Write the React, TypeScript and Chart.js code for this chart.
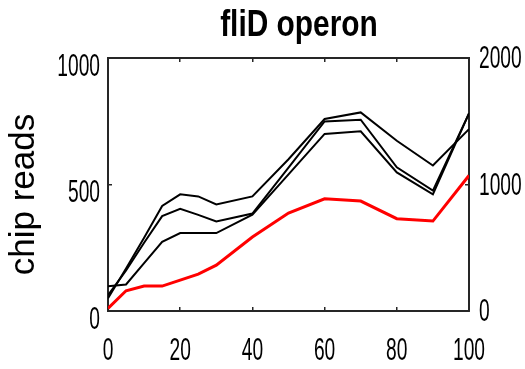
import React, { useEffect, useRef } from "react";
import { Chart, registerables } from "chart.js";

Chart.register(...registerables);

// ---- data ----
const positions = [0, 5, 10, 15, 20, 25, 30, 40, 50, 60, 70, 80, 90, 100];
const chipReadsA = [50, 168, 290, 415, 461, 453, 421, 453, 600, 759, 785, 673, 575, 719];
const chipReadsB = [62, 160, 270, 375, 404, 380, 354, 385, 567, 749, 756, 568, 476, 781];
const chipReadsC = [98, 105, 189, 273, 308, 308, 308, 381, 540, 700, 710, 548, 461, 781];
const redSeries = [20, 160, 197, 197, 244, 291, 362, 585, 774, 887, 869, 730, 711, 1071];

const xTickValues = [0, 20, 40, 60, 80, 100];
const leftTickValues = [0, 500, 1000];
const rightTickValues = [0, 1000, 2000];
const titleText = "fliD operon";
const leftAxisTitle = "chip reads";

const AXIS_COLOR = "#262626";
const TICK_FONT = '32px "Liberation Sans", Arial, sans-serif';
const TITLE_FONT = 'bold 36px "Liberation Sans", Arial, sans-serif';
const AXIS_TITLE_FONT = '35px "Liberation Sans", Arial, sans-serif';

const squeezedText = {
  id: "squeezedText",
  afterDraw(chart: any) {
    const ctx = chart.ctx;
    const area = chart.chartArea;
    const draw = (text: string, x: number, y: number, align: string, font: string, sx: number, rot = 0) => {
      ctx.save();
      ctx.translate(x, y);
      if (rot) ctx.rotate(rot);
      ctx.scale(sx, 1);
      ctx.font = font;
      ctx.fillStyle = "#000";
      ctx.textAlign = align;
      ctx.textBaseline = "alphabetic";
      ctx.fillText(text, 0, 0);
      ctx.restore();
    };
    const { x, y, y1 } = chart.scales;
    x.ticks.forEach((t: any) =>
      draw(String(t.value), x.getPixelForValue(t.value), area.bottom + 49, "center", TICK_FONT, 0.6)
    );
    y.ticks.forEach((t: any) =>
      draw(String(t.value), area.left - 8, y.getPixelForValue(t.value) + 17.5, "right", TICK_FONT, 0.6)
    );
    y1.ticks.forEach((t: any) =>
      draw(String(t.value), area.right + 10, y1.getPixelForValue(t.value) + 10, "left", TICK_FONT, 0.6)
    );
    draw(titleText, 299, 36, "center", TITLE_FONT, 0.83);
    draw(leftAxisTitle, 34, (area.top + area.bottom) / 2 + 10, "center", AXIS_TITLE_FONT, 1, -Math.PI / 2);
  },
};

export default function App() {
  const canvasRef = useRef<HTMLCanvasElement | null>(null);

  useEffect(() => {
    if (!canvasRef.current) return;
    const mk = (arr: number[]) => positions.map((p, i) => ({ x: p, y: arr[i] }));
    const blackLine = (label: string, arr: number[]) => ({
      label,
      data: mk(arr),
      borderColor: "#000000",
      backgroundColor: "#000000",
      borderWidth: 2,
      pointRadius: 0,
      tension: 0,
      xAxisID: "x",
      yAxisID: "y",
    });
    const gridOpts = { drawOnChartArea: false, drawTicks: true, tickLength: -4, color: AXIS_COLOR, lineWidth: 1.5 };
    const borderOpts = { display: true, color: AXIS_COLOR, width: 2 };
    const chart = new Chart(canvasRef.current, {
      type: "line",
      data: {
        datasets: [
          blackLine("chip reads A", chipReadsA),
          blackLine("chip reads B", chipReadsB),
          blackLine("chip reads C", chipReadsC),
          {
            label: "red series",
            data: mk(redSeries),
            borderColor: "#ff0000",
            backgroundColor: "#ff0000",
            borderWidth: 3,
            pointRadius: 0,
            tension: 0,
            xAxisID: "x",
            yAxisID: "y1",
          },
        ],
      },
      options: {
        animation: false,
        responsive: true,
        maintainAspectRatio: false,
        layout: { padding: { left: 0, right: 0, top: 58, bottom: 0 } },
        plugins: {
          legend: { display: false },
          title: { display: false },
          tooltip: { enabled: false },
        },
        scales: {
          x: {
            type: "linear",
            position: "bottom",
            min: 0,
            max: 100,
            afterBuildTicks: (s: any) => {
              s.ticks = xTickValues.map((v) => ({ value: v }));
            },
            afterFit: (s: any) => {
              s.height = 58;
            },
            ticks: { display: false },
            grid: gridOpts,
            border: borderOpts,
          },
          x2: {
            type: "linear",
            position: "top",
            min: 0,
            max: 100,
            afterBuildTicks: (s: any) => {
              s.ticks = xTickValues.map((v) => ({ value: v }));
            },
            afterFit: (s: any) => {
              s.height = 0;
            },
            ticks: { display: false },
            grid: gridOpts,
            border: borderOpts,
          },
          y: {
            type: "linear",
            position: "left",
            min: 0,
            max: 1000,
            afterBuildTicks: (s: any) => {
              s.ticks = leftTickValues.map((v) => ({ value: v }));
            },
            afterFit: (s: any) => {
              s.width = 108;
            },
            ticks: { display: false },
            grid: gridOpts,
            border: borderOpts,
            title: { display: false },
          },
          y1: {
            type: "linear",
            position: "right",
            min: 0,
            max: 2000,
            afterBuildTicks: (s: any) => {
              s.ticks = rightTickValues.map((v) => ({ value: v }));
            },
            afterFit: (s: any) => {
              s.width = 56;
            },
            ticks: { display: false },
            grid: gridOpts,
            border: borderOpts,
          },
        },
      },
      plugins: [squeezedText],
    } as any);
    return () => chart.destroy();
  }, []);

  return (
    <div style={{ position: "absolute", left: 0, top: 0, width: 525, height: 369, background: "#fff" }}>
      <canvas ref={canvasRef} />
    </div>
  );
}
